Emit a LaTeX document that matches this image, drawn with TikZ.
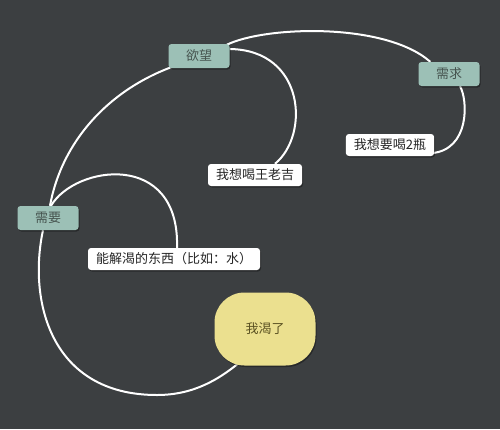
\documentclass[tikz,border=0pt]{standalone}
\usepackage{fontspec}
\setmainfont{Noto Sans CJK SC}
\usetikzlibrary{shadows,backgrounds}
\definecolor{board}{HTML}{3C3F41}
\definecolor{sage}{HTML}{9CC0B6}
\definecolor{sagetext}{HTML}{46544F}
\definecolor{straw}{HTML}{EBE08F}
\definecolor{strawtext}{HTML}{5A5122}
\tikzset{
	softshadow/.style={drop shadow={shadow xshift=1pt, shadow yshift=-1.5pt, opacity=0.35, fill=black}},
	topic/.style={fill=sage, text=sagetext, rounded corners=3pt, minimum width=61pt, minimum height=24pt, inner sep=0pt, softshadow},
	leaf/.style={fill=white, text=black!85, rounded corners=3pt, minimum height=22pt, inner xsep=8pt, inner ysep=0pt, softshadow},
	core/.style={fill=straw, text=strawtext, rounded corners=30pt, minimum width=101pt, minimum height=73pt, inner sep=0pt, softshadow},
	branch/.style={draw=white, line width=2pt},
}

\begin{document}
\begin{tikzpicture}[x=1pt, y=-1pt, font=\fontsize{13}{15}\selectfont]
			%%%%% NODES %%%%%
			
			\node[topic] (desire) at (199, 56) {欲望};
			\node[topic] (demand) at (449, 74) {需求};
			\node[topic] (need) at (48, 218) {需要};
			
			\node[leaf] (wish) at (255, 175) {我想喝王老吉};
			\node[leaf] (bottles) at (390, 145) {我想要喝2瓶};
			\node[leaf] (quench) at (174, 259) {能解渴的东西（比如：水）};
			
			\node[core] (thirsty) at (265, 329) {我渴了};
			
			%%%%% BRANCHES %%%%%
			\begin{scope}[on background layer]
			\fill[board] (0, 0) rectangle (500, 429);
			
			\draw[branch] ([xshift=2pt]need.north) .. controls (62, 140) and (110, 90) .. ([xshift=3pt, yshift=1pt]desire.south west);
			\draw[branch] ([xshift=-3pt, yshift=-1pt]desire.north east) .. controls (265, 26) and (385, 22) .. ([xshift=12pt]demand.north west);
			\draw[branch] ([yshift=7pt]desire.east) .. controls (305, 50) and (310, 135) .. ([xshift=20pt]wish.north);
			\draw[branch] ([xshift=11pt]demand.south) .. controls (468, 100) and (470, 150) .. ([xshift=-3pt, yshift=3pt]bottles.south east);
			
			\draw[branch] ([xshift=3pt]need.north) .. controls (75, 165) and (180, 150) .. ([xshift=3pt]quench.north);
			\draw[branch] ([xshift=-5pt]need.south) .. controls (28, 300) and (50, 395) .. (157, 395) .. controls (195, 395) and (220, 378) .. ([xshift=-27pt, yshift=2pt]thirsty.south);
			\end{scope}
			
			%%%%% END %%%%%
\end{tikzpicture}
\end{document}
